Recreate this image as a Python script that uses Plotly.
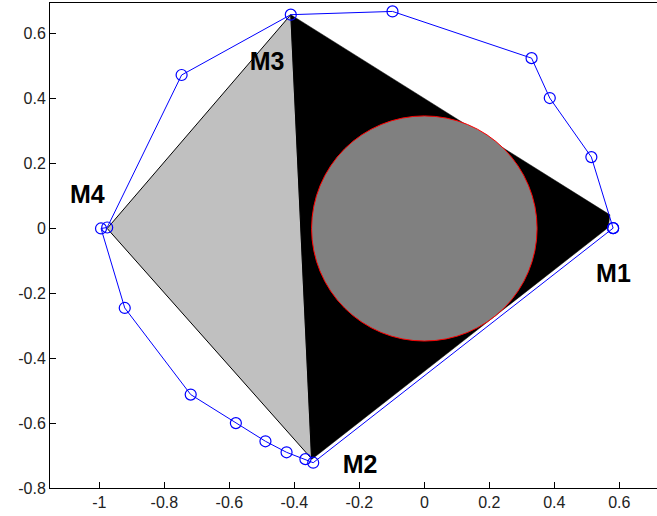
import plotly.graph_objects as go

# Blue outer path (markers 'o-')
path_x = [0.581, 0.514, 0.386, 0.330, -0.098, -0.411, -0.747, -0.976, -0.995, -0.922,
          -0.719, -0.580, -0.489, -0.424, -0.366, -0.342, 0.581]
path_y = [0.001, 0.220, 0.402, 0.525, 0.669, 0.659, 0.473, 0.003, 0.000, -0.245,
          -0.512, -0.600, -0.656, -0.690, -0.711, -0.722, 0.001]

# Light gray triangle M4-M3-M2
gray_x = [-0.976, -0.411, -0.347, -0.976]
gray_y = [0.000, 0.659, -0.710, 0.000]

# Black triangle M3-M1-M2
black_x = [-0.411, 0.571, 0.566, -0.347, -0.411]
black_y = [0.659, 0.042, 0.003, -0.712, 0.659]

# Inscribed circle
circle_cx, circle_cy, circle_r = 0.0, 0.0, 0.347

# Labels
label_text = ["M1", "M2", "M3", "M4"]
label_x = [0.582, -0.198, -0.484, -1.037]
label_y = [-0.147, -0.733, 0.508, 0.099]

tick_x = [-1, -0.8, -0.6, -0.4, -0.2, 0, 0.2, 0.4, 0.6]
tick_x_text = ["-1", "-0.8", "-0.6", "-0.4", "-0.2", "0", "0.2", "0.4", "0.6"]
tick_y = [-0.8, -0.6, -0.4, -0.2, 0, 0.2, 0.4, 0.6]
tick_y_text = ["-0.8", "-0.6", "-0.4", "-0.2", "0", "0.2", "0.4", "0.6"]

fig = go.Figure()

fig.add_trace(go.Scatter(x=gray_x, y=gray_y, mode="lines", fill="toself",
                         fillcolor="#C0C0C0", line=dict(color="black", width=1),
                         hoverinfo="skip", showlegend=False))
fig.add_trace(go.Scatter(x=black_x, y=black_y, mode="lines", fill="toself",
                         fillcolor="black", line=dict(color="black", width=0.5),
                         hoverinfo="skip", showlegend=False))
fig.add_trace(go.Scatter(x=path_x, y=path_y, mode="lines+markers",
                         line=dict(color="#0000FF", width=1),
                         marker=dict(symbol="circle-open", size=11,
                                     line=dict(color="#0000FF", width=1.2)),
                         showlegend=False))
fig.add_trace(go.Scatter(x=label_x, y=label_y, mode="text", text=label_text,
                         textfont=dict(family="Liberation Sans, Arial", size=25,
                                       color="black", weight="bold"),
                         hoverinfo="skip", showlegend=False))

fig.add_shape(type="circle", xref="x", yref="y",
              x0=circle_cx - circle_r, x1=circle_cx + circle_r,
              y0=circle_cy - circle_r, y1=circle_cy + circle_r,
              fillcolor="#808080", line=dict(color="red", width=1), layer="above")

fig.update_layout(
    width=657, height=516,
    margin=dict(l=50, r=0, t=3, b=28),
    paper_bgcolor="white", plot_bgcolor="white",
    font=dict(family="Liberation Sans, Arial", size=16, color="#222222"),
    xaxis=dict(range=[-1.152, 0.716], tickvals=tick_x, ticktext=tick_x_text,
               showgrid=False, zeroline=False, showline=True, linecolor="black",
               linewidth=1, mirror=True, ticks="inside", ticklen=6, tickcolor="black"),
    yaxis=dict(range=[-0.8, 0.695], tickvals=tick_y, ticktext=tick_y_text,
               showgrid=False, zeroline=False, showline=True, linecolor="black",
               linewidth=1, mirror=False, ticks="inside", ticklen=6, tickcolor="black"),
)

fig.write_html("out.html", config={"displayModeBar": False},
               post_script="document.body.style.margin='0';document.body.style.overflow='hidden';")
